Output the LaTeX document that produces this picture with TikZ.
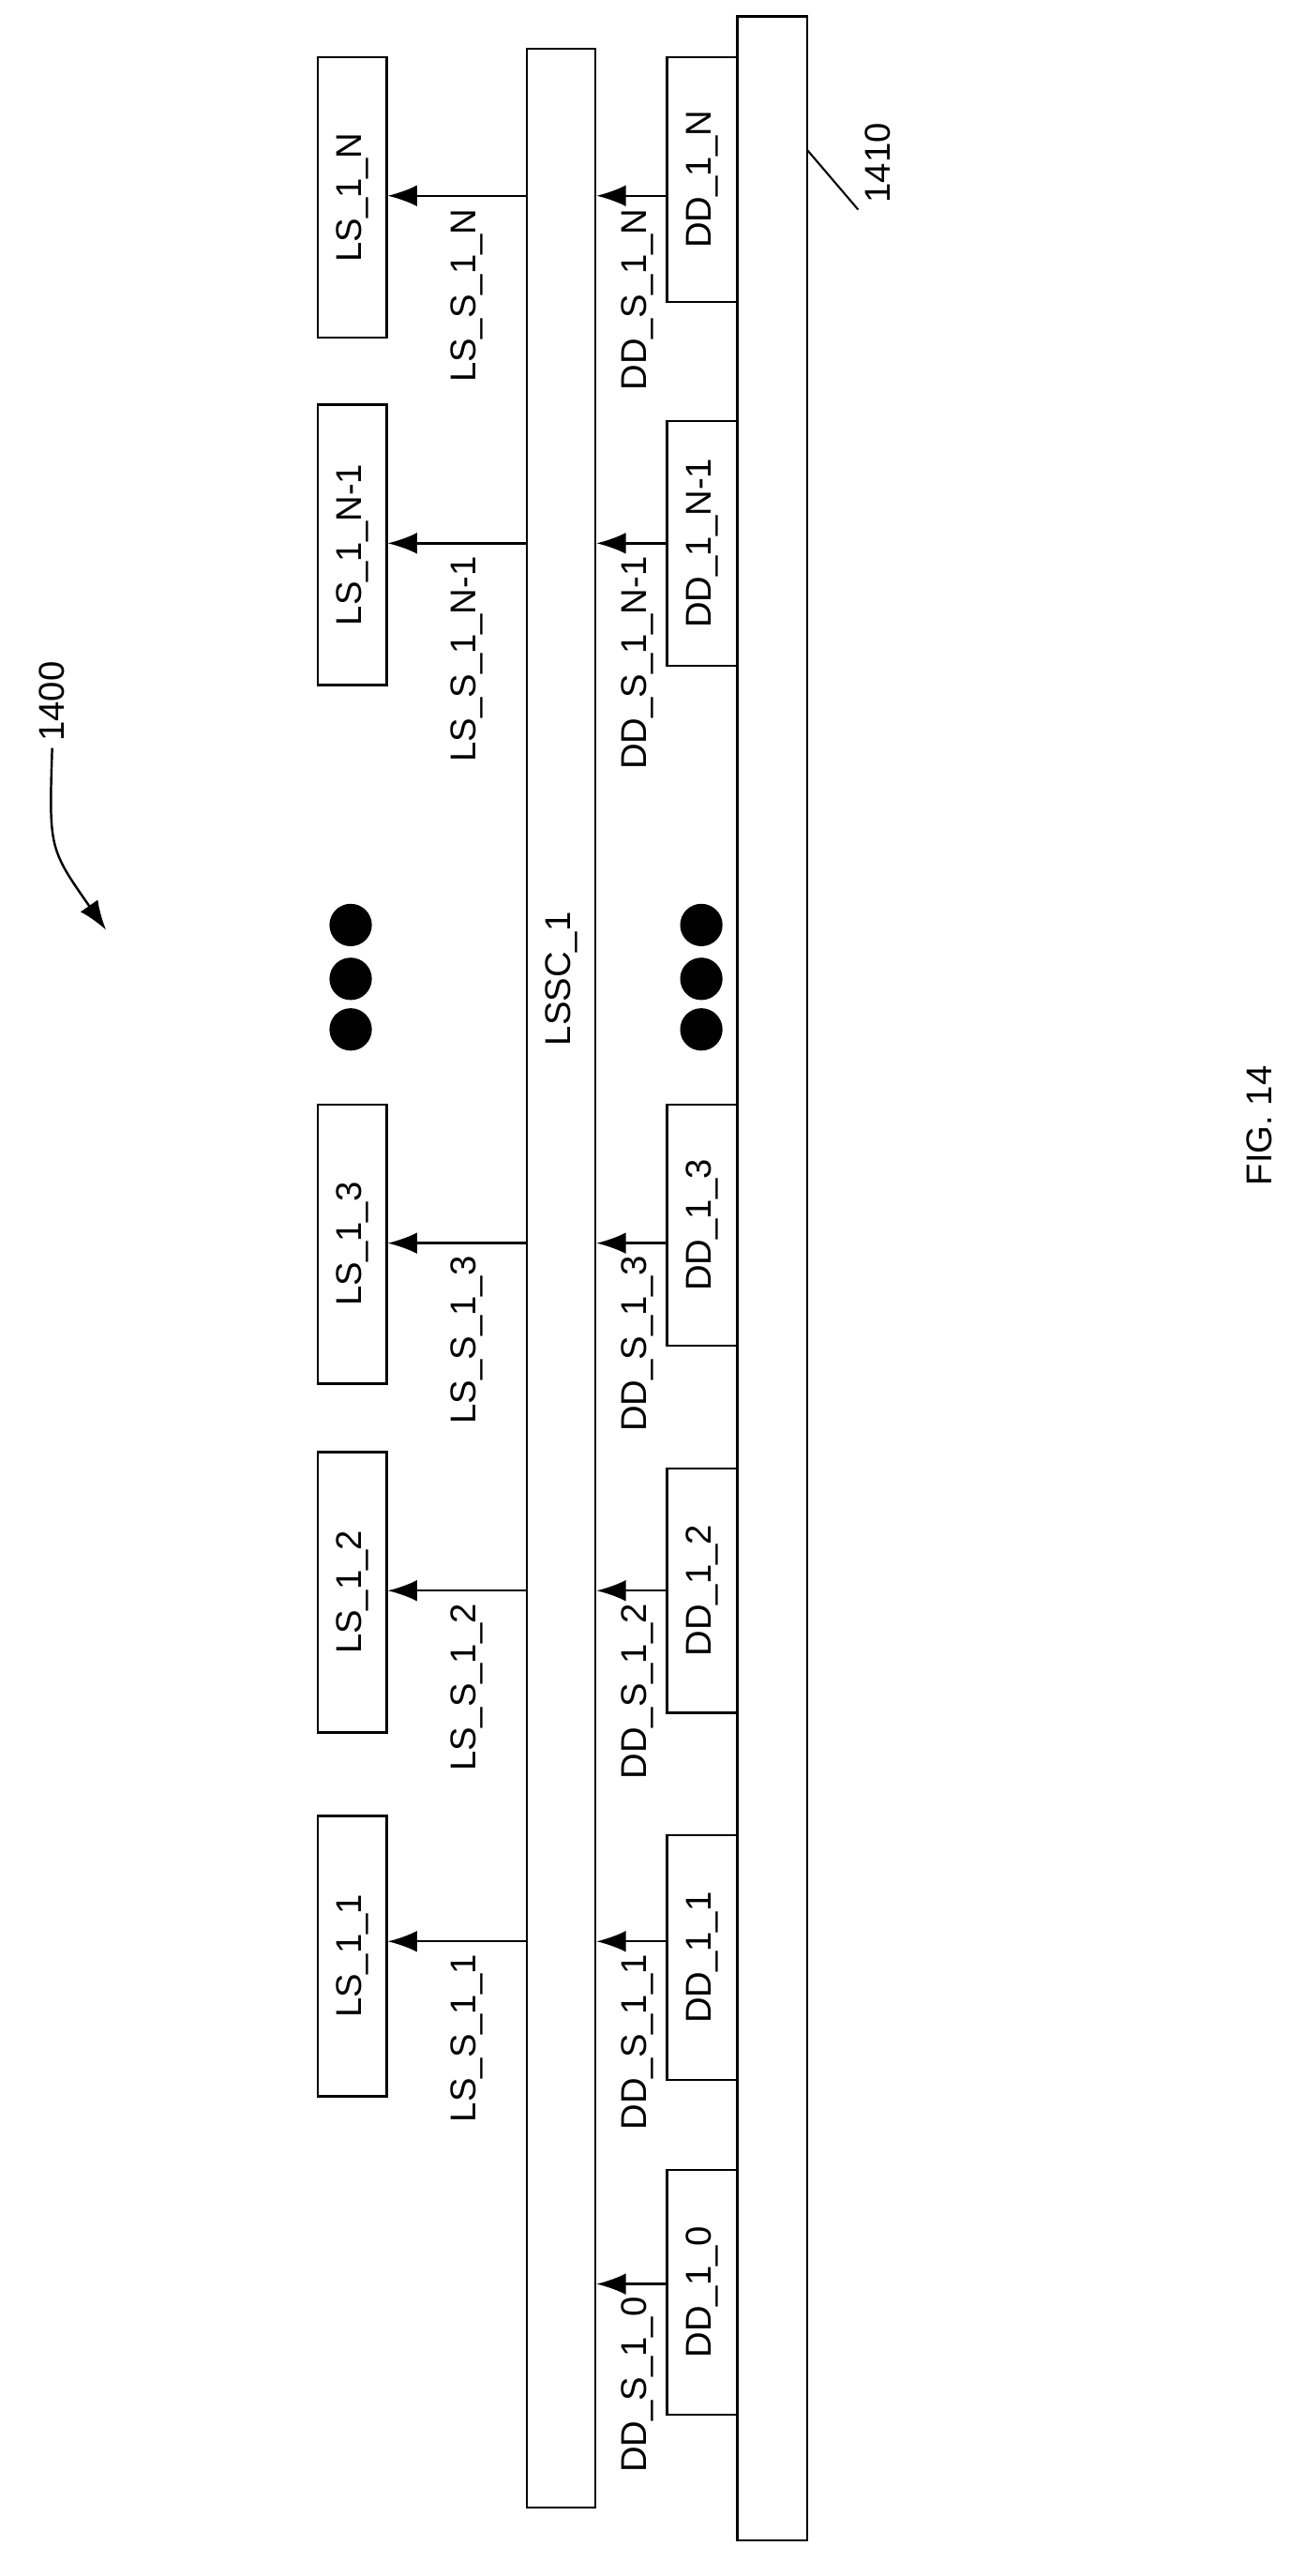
\documentclass[tikz,border=0pt]{standalone}
\usepackage{fontspec}
\setmainfont{Liberation Sans}
\usetikzlibrary{arrows.meta}
\begin{document}
\begin{tikzpicture}[x=1pt,y=-1pt,line width=1.4pt,
  box/.style={draw,rectangle,inner sep=0pt},
  lab/.style={font=\fontsize{22}{22}\selectfont,rotate=90},
  arr/.style={-{Latex[length=18pt,width=13pt]}},
  dot/.style={fill,circle,minimum size=26pt,inner sep=0pt}]
\useasboundingbox (0,0) rectangle (800,1579);
\node[box,minimum width=42pt,minimum height=1507pt] (lssc) at (344,783.5) {};
\node[lab] at (344,600) {LSSC\_1};
\node[box,minimum width=43pt,minimum height=1547pt] (base) at (473.5,783.5) {};
% LS boxes
\foreach \n/\ya/\yb/\ay/\t in {N/35/207/120/N, Nm/248/420/333/N-1, c/677/848/762/3, b/890/1062/975/2, a/1113/1285/1190/1}{
  \node[box,minimum width=42pt,minimum height={\yb-\ya}] (ls\n) at (216,{(\ya+\yb)/2}) {};
  \node[lab] at (ls\n) {LS\_1\_\t};
  \coordinate (lsa\n) at (323,\ay);
  \draw[arr] (lsa\n) -- (lsa\n -| ls\n.east);
  \node[lab,anchor=east] at (286,\ay+4) {LS\_S\_1\_\t};
}
\foreach \n/\ya/\yb/\ay/\t in {N/35/185/120/N, Nm/258/408/333/N-1, c/677/825/762/3, b/900/1050/975/2, a/1125/1275/1190/1, z/1330/1480/1400/0}{
  \node[box,minimum width=43pt,minimum height={\yb-\ya}] (dd\n) at (430.5,{(\ya+\yb)/2}) {};
  \node[lab] at (dd\n) {DD\_1\_\t};
  \coordinate (dda\n) at (409,\ay);
  \draw[arr] (dda\n) -- (dda\n -| lssc.east);
  \node[lab,anchor=east] at (391,\ay+4) {DD\_S\_1\_\t};
}
\foreach \y in {567,600,631}{
  \node[dot] (l\y) at (215,\y) {};
  \node[dot] (d\y) at (430,\y) {};
}
\node[lab] (n1400) at (32,430) {1400};
\coordinate (c1400) at (65,570);
\draw[arr] (n1400.west) .. controls (30,520) .. (c1400);
\node[lab] (n1410) at (538,100) {1410};
\draw[line width=1.2pt] (495,92) -- (n1410.north west);
\node[lab] (fig) at (772,690) {FIG. 14};
\end{tikzpicture}
\end{document}
